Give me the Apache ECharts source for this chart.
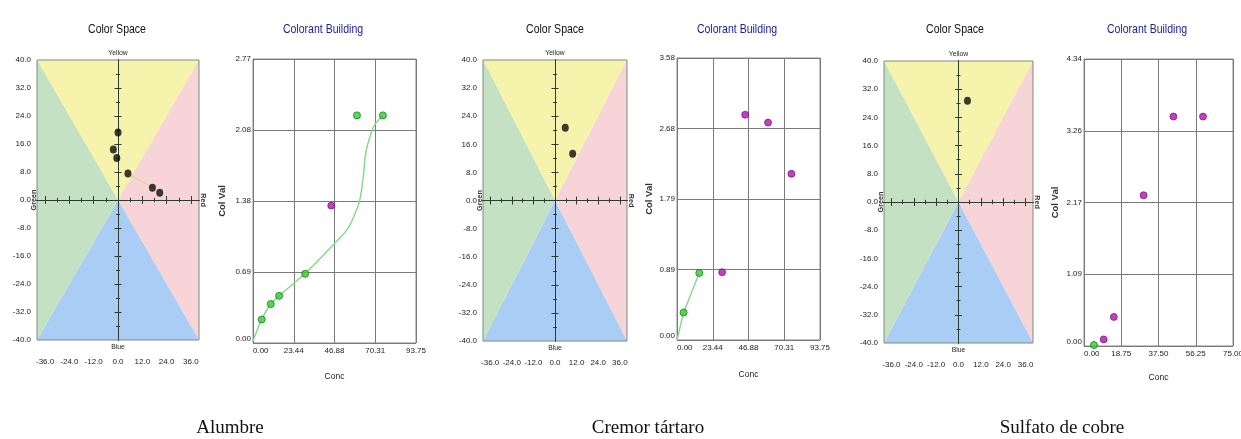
<!DOCTYPE html>
<html><head><meta charset="utf-8">
<script src="https://cdn.jsdelivr.net/npm/echarts@6/dist/echarts.min.js"></script>
<style>html,body{margin:0;padding:0;background:#fff}#c{width:1241px;height:439px}</style>
</head><body><div id="c"></div>
<script>
// ---------- data ----------
const samples = ['Alumbre', 'Cremor tártaro', 'Sulfato de cobre'];

// colour-space axes
const spaceRange = [-40, 40];
const spaceLabelX = [-36, -24, -12, 0, 12, 24, 36];
const spaceMajorTickX = [-36, -24, -12, 12, 24, 36];
const spaceMinorTickX = [-30, -18, -6, 6, 18, 30];
const spaceMajorTickY = [-32, -24, -16, -8, 8, 16, 24, 32];
const spaceMinorTickY = [-36, -28, -20, -12, -4, 4, 12, 20, 28, 36];
const regionNames = ['Yellow', 'Red', 'Blue', 'Green'];
const regionVertices = [
  [[-40, 40], [40, 40], [0, 0]],
  [[40, 40], [40, -40], [0, 0]],
  [[40, -40], [-40, -40], [0, 0]],
  [[-40, -40], [-40, 40], [0, 0]]
];

// colour-space points (a*, b*)
const alumbreSpace = [[0, 19.3], [-2.3, 14.4], [-0.6, 12.0], [4.9, 7.6], [17.0, 3.5], [20.6, 2.1]];
const alumbreSpaceLink = [[4.9, 7.6], [17.0, 3.5]];
const cremorSpace = [[5.7, 20.7], [9.8, 13.3]];
const sulfatoSpace = [[4.8, 28.7]];

// colorant building axes
const alumbreConcMax = 93.75, alumbreValMax = 2.77;
const alumbreConcTicks = ['0.00', '23.44', '46.88', '70.31', '93.75'];
const alumbreValTicks = ['0.00', '0.69', '1.38', '2.08', '2.77'];
const cremorConcMax = 93.75, cremorValMax = 3.58;
const cremorConcTicks = ['0.00', '23.44', '46.88', '70.31', '93.75'];
const cremorValTicks = ['0.00', '0.89', '1.79', '2.68', '3.58'];
const sulfatoConcMax = 75, sulfatoValMax = 4.34;
const sulfatoConcTicks = ['0.00', '18.75', '37.50', '56.25', '75.00'];
const sulfatoValTicks = ['0.00', '1.09', '2.17', '3.26', '4.34'];

// colorant building points (conc, col val)
const alumbreGreen = [[5.0, 0.23], [10.2, 0.38], [15.0, 0.46], [30.0, 0.675], [59.8, 2.22], [74.7, 2.22]];
const alumbreMagenta = [[45.0, 1.34]];
const alumbreCurve = [[0, 0.02], [5.0, 0.23], [10.2, 0.38], [15.0, 0.46], [29.8, 0.675], [47.1, 0.975], [54.7, 1.12], [59.6, 1.30], [61.5, 1.40], [63.4, 1.62], [64.8, 1.85], [67.2, 2.01], [70.1, 2.13], [74.7, 2.22]];
const cremorGreen = [[4.3, 0.35], [14.6, 0.85]];
const cremorMagenta = [[29.6, 0.86], [44.7, 2.86], [59.7, 2.76], [75.0, 2.11]];
const cremorCurve = [[0, 0], [4.3, 0.35], [14.6, 0.85]];
const sulfatoGreen = [[5.0, 0.015]];
const sulfatoMagenta = [[9.9, 0.10], [15.0, 0.44], [30.0, 2.28], [45.0, 3.47], [59.9, 3.47]];

// ---------- layout / style ----------
const SANS = "'Liberation Sans',Arial,sans-serif";
const SERIF = "'Liberation Serif','Times New Roman',serif";
const regionColors = ['#f6f3ad', '#f6d4d8', '#a9cdf4', '#c4e1c4'];
const LBL = 8;

const panels = [
  { cs: [37, 60, 162, 280], cb: [253, 59, 163, 284], csTitle: 117, cbTitle: 323, capX: 230,
    pts: alumbreSpace, link: alumbreSpaceLink,
    conc: [alumbreConcMax, alumbreConcTicks], val: [alumbreValMax, alumbreValTicks],
    green: alumbreGreen, magenta: alumbreMagenta, curve: alumbreCurve, smooth: 0.3,
    colGap: 26, concGap: 29 },
  { cs: [483, 60, 144, 281], cb: [677, 58, 143, 282], csTitle: 555, cbTitle: 737, capX: 648,
    pts: cremorSpace, link: null,
    conc: [cremorConcMax, cremorConcTicks], val: [cremorValMax, cremorValTicks],
    green: cremorGreen, magenta: cremorMagenta, curve: cremorCurve, smooth: false,
    colGap: 23, concGap: 30 },
  { cs: [884, 61, 149, 282], cb: [1084, 59, 149, 287], csTitle: 955, cbTitle: 1147, capX: 1062,
    pts: sulfatoSpace, link: null,
    conc: [sulfatoConcMax, sulfatoConcTicks], val: [sulfatoValMax, sulfatoValTicks],
    green: sulfatoGreen, magenta: sulfatoMagenta, curve: null, smooth: false,
    colGap: 24, concGap: 27 }
];

const grid = [], xAxis = [], yAxis = [], series = [], graphic = [];
const axisColor = '#2f3b2f';

function rect(r, extra) {
  return Object.assign({ left: r[0], top: r[1], width: r[2], height: r[3], outerBoundsMode: 'none', containLabel: false }, extra || {});
}

function txt(x, y, text, font, fill, rot, sx) {
  return { type: 'text', x: x, y: y, rotation: rot || 0, scaleX: sx || 1, silent: true,
    style: { text: text, font: font, fill: fill || '#222', align: 'center', verticalAlign: 'middle' } };
}

panels.forEach((p, pi) => {
  const g0 = grid.length;
  // main colour-space grid
  grid.push(rect(p.cs, { show: true, borderColor: '#7f8c7c', borderWidth: 1, backgroundColor: 'transparent' }));
  xAxis.push({ type: 'value', gridIndex: g0, min: spaceRange[0], max: spaceRange[1],
    axisLine: { show: false }, axisTick: { show: false }, splitLine: { show: false },
    axisLabel: { customValues: spaceLabelX, formatter: v => v.toFixed(1), fontFamily: SANS, fontSize: LBL, color: '#222', margin: 18 } });
  yAxis.push({ type: 'value', gridIndex: g0, min: spaceRange[0], max: spaceRange[1], interval: 8,
    axisLine: { show: false }, axisTick: { show: false }, splitLine: { show: false },
    axisLabel: { formatter: v => v.toFixed(1), fontFamily: SANS, fontSize: LBL, color: '#222', margin: 6 } });
  const ax0 = xAxis.length - 1, ay0 = yAxis.length - 1;

  // tick grids (major, minor) – crossing ticks on the zero lines
  [[spaceMajorTickX, spaceMajorTickY, 4, 3.5], [spaceMinorTickX, spaceMinorTickY, 2.2, 2]].forEach(t => {
    const gi = grid.length;
    grid.push(rect(p.cs));
    ['bottom', 'top'].forEach(pos => xAxis.push({ type: 'value', gridIndex: gi, min: spaceRange[0], max: spaceRange[1], position: pos,
      axisLine: { show: true, onZero: true, lineStyle: { color: axisColor, width: 1 } },
      axisTick: { show: true, inside: true, length: t[2], customValues: t[0], lineStyle: { color: axisColor } },
      axisLabel: { show: false }, splitLine: { show: false } }));
    ['left', 'right'].forEach(pos => yAxis.push({ type: 'value', gridIndex: gi, min: spaceRange[0], max: spaceRange[1], position: pos,
      axisLine: { show: true, onZero: true, lineStyle: { color: axisColor, width: 1 } },
      axisTick: { show: true, inside: true, length: t[3], customValues: t[1], lineStyle: { color: axisColor } },
      axisLabel: { show: false }, splitLine: { show: false } }));
  });

  // colour regions
  series.push({ type: 'custom', xAxisIndex: ax0, yAxisIndex: ay0, z: -5, silent: true,
    data: regionNames.map((n, i) => ({ name: n, value: regionVertices[i][2] })),
    renderItem: (params, api) => ({
      type: 'polygon',
      shape: { points: regionVertices[params.dataIndex].map(v => api.coord(v)) },
      style: { fill: regionColors[params.dataIndex] }
    }) });
  if (p.link) series.push({ type: 'line', xAxisIndex: ax0, yAxisIndex: ay0, data: p.link, showSymbol: false, silent: true,
    lineStyle: { color: '#f2cf9c', width: 2 }, z: 3 });
  series.push({ type: 'scatter', xAxisIndex: ax0, yAxisIndex: ay0, data: p.pts, symbol: 'circle', symbolSize: [7, 8],
    itemStyle: { color: '#0d0d0d' }, z: 5 });

  // colorant building grid
  const gc = grid.length;
  grid.push(rect(p.cb, { show: true, borderColor: '#8a8a8a', borderWidth: 1 }));
  xAxis.push({ type: 'value', gridIndex: gc, min: 0, max: p.conc[0], interval: p.conc[0] / 4,
    axisLine: { show: false }, axisTick: { show: false },
    splitLine: { show: true, lineStyle: { color: '#7a7a7a', width: 1 } },
    axisLabel: { formatter: (v, i) => p.conc[1][i], alignMinLabel: 'left', fontFamily: SANS, fontSize: LBL, color: '#222', margin: 4 },
    name: 'Conc', nameLocation: 'middle', nameGap: p.concGap, nameTextStyle: { fontFamily: SANS, fontSize: 8.5, color: '#222' } });
  yAxis.push({ type: 'value', gridIndex: gc, min: 0, max: p.val[0], interval: p.val[0] / 4,
    axisLine: { show: false }, axisTick: { show: false },
    splitLine: { show: true, lineStyle: { color: '#7a7a7a', width: 1 } },
    axisLabel: { formatter: (v, i) => p.val[1][i], verticalAlignMinLabel: 'bottom', fontFamily: SANS, fontSize: LBL, color: '#222', margin: 2 },
    name: 'Col Val', nameLocation: 'middle', nameRotate: 90, nameGap: p.colGap,
    nameTextStyle: { fontFamily: SANS, fontSize: 9.5, fontWeight: 'bold', color: '#333' } });
  const axc = xAxis.length - 1, ayc = yAxis.length - 1;
  if (p.curve) series.push({ type: 'line', xAxisIndex: axc, yAxisIndex: ayc, data: p.curve, smooth: p.smooth,
    showSymbol: false, silent: true, lineStyle: { color: '#86d886', width: 1.4 }, z: 3 });
  series.push({ type: 'scatter', xAxisIndex: axc, yAxisIndex: ayc, data: p.green, symbolSize: 7,
    itemStyle: { color: '#2fd02f', borderColor: '#1b7a1b', borderWidth: 1 }, z: 5 });
  series.push({ type: 'scatter', xAxisIndex: axc, yAxisIndex: ayc, data: p.magenta, symbolSize: 7,
    itemStyle: { color: '#b20fb4', borderColor: '#6d086e', borderWidth: 0.8 }, z: 5 });

  // texts
  const [l, t, w, h] = p.cs;
  const cx = l + w / 2;
  graphic.push(txt(p.csTitle, 29, 'Color Space', '13.5px ' + SANS, '#111', 0, 0.78));
  graphic.push(txt(p.cbTitle, 29, 'Colorant Building', '13.5px ' + SANS, '#1c1c96', 0, 0.78));
  graphic.push(txt(cx, t - 7, 'Yellow', '8px ' + SANS, '#222', 0, 0.85));
  graphic.push(txt(cx, t + h + 7, 'Blue', '8px ' + SANS, '#222', 0, 0.85));
  graphic.push(txt(l - 3.5, t + h / 2, 'Green', 'bold 8px ' + SANS, '#333', Math.PI / 2, 0.9));
  graphic.push(txt(l + w + 4, t + h / 2, 'Red', 'bold 8px ' + SANS, '#333', -Math.PI / 2, 0.9));
  graphic.push(txt(p.capX, 428, samples[pi], '19px ' + SERIF, '#111'));
});

const chart = echarts.init(document.getElementById('c'), null, { renderer: 'canvas' });
chart.setOption({ animation: false, backgroundColor: '#fff', grid, xAxis, yAxis, series, graphic });
</script></body></html>
